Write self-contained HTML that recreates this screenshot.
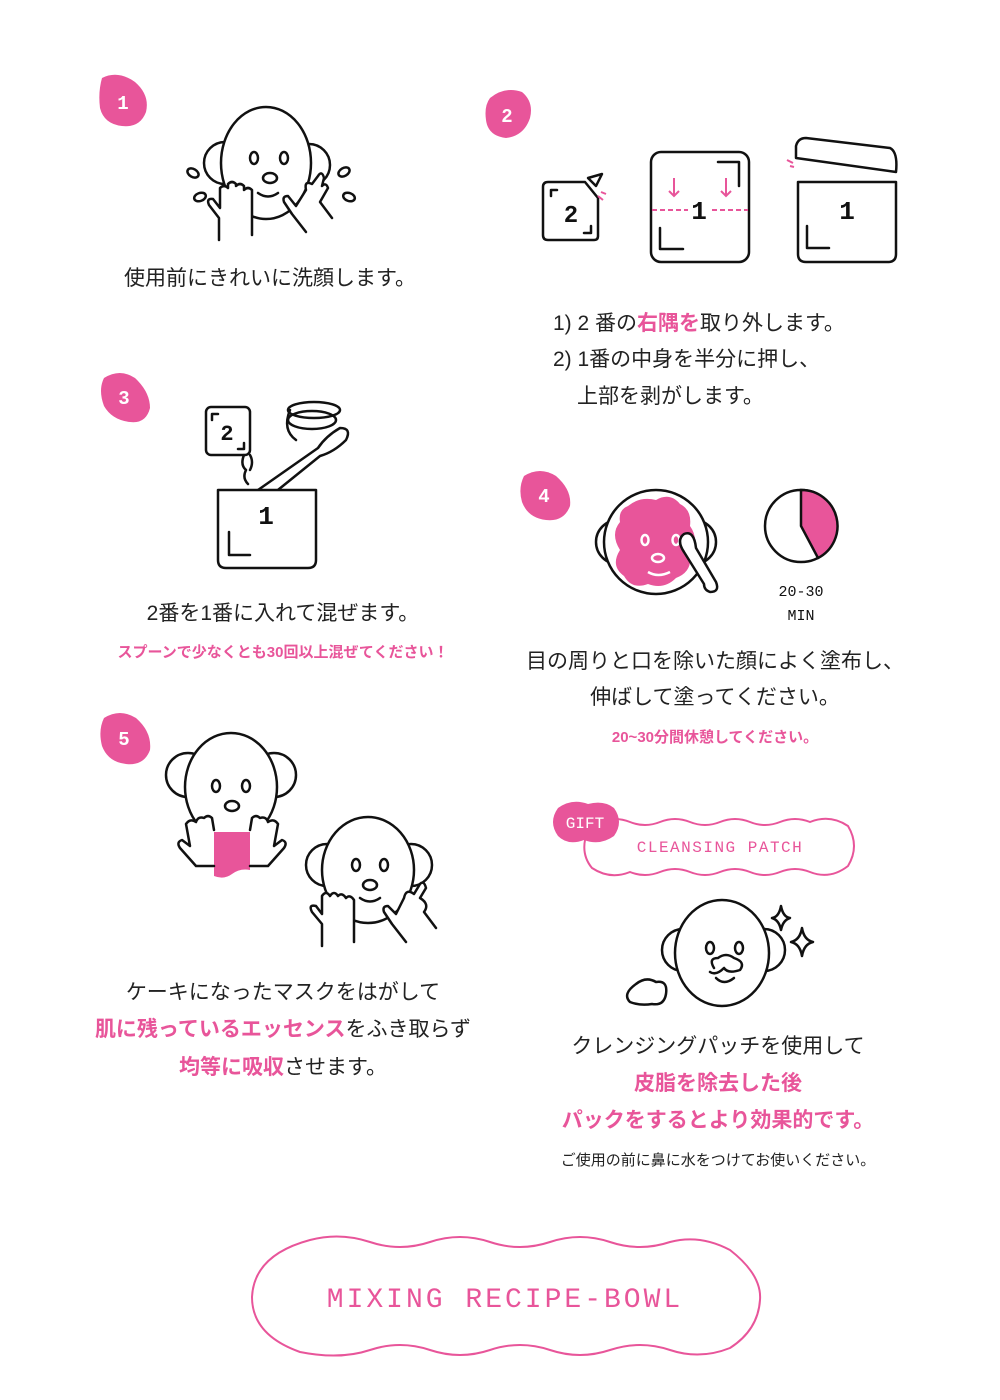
<!DOCTYPE html>
<html><head><meta charset="utf-8"><style>
html,body{margin:0;padding:0;background:#fff;}
svg{display:block}
.t{font-family:"Liberation Sans","Noto Sans CJK JP",sans-serif;font-size:21px;fill:#222}
.p{fill:#e8559a;font-weight:bold}
.m{font-family:"Liberation Mono","DejaVu Sans Mono",monospace;fill:#e8559a}
.b{fill:#e8559a}
.l{fill:none;stroke:#111;stroke-width:2.5;stroke-linecap:round;stroke-linejoin:round}
.lw{fill:#fff;stroke:#111;stroke-width:2.5;stroke-linecap:round;stroke-linejoin:round}
.pl{fill:none;stroke:#e8559a;stroke-width:2}
.n{font-family:"Liberation Mono",monospace;font-weight:bold;fill:#111}
</style></head><body>
<svg width="1000" height="1400" viewBox="0 0 1000 1400" xmlns="http://www.w3.org/2000/svg">
<g>
<path class="b" d="M102 78 Q118 70 135 82 Q150 95 146 112 Q140 128 122 126 Q104 124 100 108 Q98 92 102 78Z"/>
<text x="123" y="109" class="m" font-size="19" font-weight="bold" style="fill:#fff" text-anchor="middle">1</text>
<path class="b" d="M490 98 Q505 86 522 92 Q534 102 530 118 Q524 136 506 138 Q488 136 486 120 Q484 106 490 98Z"/>
<text x="507" y="122" class="m" font-size="19" font-weight="bold" style="fill:#fff" text-anchor="middle">2</text>
<path class="b" d="M104 378 Q120 368 135 378 Q150 392 150 408 Q146 424 130 422 Q112 420 104 406 Q98 390 104 378Z"/>
<text x="124" y="404" class="m" font-size="19" font-weight="bold" style="fill:#fff" text-anchor="middle">3</text>
<path class="b" d="M524 476 Q540 466 556 476 Q572 490 570 506 Q564 522 546 520 Q528 518 522 502 Q518 488 524 476Z"/>
<text x="544" y="502" class="m" font-size="19" font-weight="bold" style="fill:#fff" text-anchor="middle">4</text>
<path class="b" d="M104 718 Q120 708 136 718 Q152 732 150 750 Q144 766 126 764 Q108 762 102 746 Q98 730 104 718Z"/>
<text x="124" y="745" class="m" font-size="19" font-weight="bold" style="fill:#fff" text-anchor="middle">5</text>
</g>

<!-- Step 1 -->
<g>
<circle class="lw" cx="225" cy="163" r="21"/>
<circle class="lw" cx="309" cy="165" r="21"/>
<ellipse class="lw" cx="266" cy="163" rx="45" ry="56"/>
<ellipse class="l" cx="254" cy="158" rx="4" ry="6"/>
<ellipse class="l" cx="284" cy="158" rx="4" ry="6"/>
<ellipse class="l" cx="270" cy="178" rx="7" ry="5"/>
<path class="l" d="M258 193 Q268 200 278 193"/>
<path class="lw" d="M219 240 L219 218 L209 205 Q206 198 213 199 L220 208 L220 188 Q224 184 228 188 L228 184 Q232 180 236 184 L236 186 Q240 182 244 186 L244 190 Q248 186 252 190 L252 235"/>
<path class="lw" d="M306 232 L292 214 L284 202 Q282 196 288 196 L296 206 L306 190 Q304 180 312 184 L318 176 Q322 170 324 178 L322 186 Q326 182 328 188 L320 202 L332 218"/>
<ellipse class="l" cx="193" cy="173" rx="6" ry="4" transform="rotate(30 193 173)"/>
<ellipse class="l" cx="200" cy="197" rx="6" ry="4" transform="rotate(-20 200 197)"/>
<ellipse class="l" cx="344" cy="172" rx="6" ry="4" transform="rotate(-30 344 172)"/>
<ellipse class="l" cx="349" cy="197" rx="6" ry="4" transform="rotate(20 349 197)"/>
</g>
<text x="270" y="285" class="t" text-anchor="middle">使用前にきれいに洗顔します。</text>

<!-- Step 2 -->
<g>
<path class="lw" d="M548 182 L585 182 L598 198 L598 236 Q598 240 594 240 L548 240 Q543 240 543 235 L543 187 Q543 182 548 182Z"/>
<path class="l" d="M551 196 L551 190 L557 190 M591 226 L591 233 L584 233"/>
<text x="571" y="222" class="n" font-size="24" text-anchor="middle">2</text>
<path class="l" d="M588 178 L602 174 L596 186Z" stroke-width="2"/>
<path class="pl" d="M601 192 L606 194 M598 196 L603 200" />
<rect class="lw" x="651" y="152" width="98" height="110" rx="10"/>
<path class="l" d="M718 162 L739 162 L739 186 M660 228 L660 249 L683 249"/>
<path class="pl" stroke-dasharray="5 3" d="M652 210 L688 210 M712 210 L748 210"/>
<path class="pl" d="M674 178 L674 196 M669 191 L674 196 L679 191 M726 178 L726 196 M721 191 L726 196 L731 191"/>
<text x="699" y="219" class="n" font-size="26" text-anchor="middle">1</text>
<path class="lw" d="M798 182 L896 182 L896 254 Q896 262 888 262 L806 262 Q798 262 798 254Z"/>
<path class="l" d="M807 226 L807 248 L829 248"/>
<text x="847" y="219" class="n" font-size="26" text-anchor="middle">1</text>
<path class="lw" d="M806 138 L890 148 Q898 152 896 172 L796 158 L796 146 Q798 138 806 138Z"/>
<path class="pl" d="M787 160 L793 163 M790 166 L794 167"/>
</g>
<text x="553" y="330" class="t">1) 2 番の<tspan class="p">右隅を</tspan>取り外します。</text>
<text x="553" y="366" class="t">2) 1番の中身を半分に押し、</text>
<text x="577" y="403" class="t">上部を剥がします。</text>

<!-- Step 3 -->
<g>
<rect class="lw" x="206" y="407" width="44" height="48" rx="5"/>
<text x="227" y="440" class="n" font-size="22" text-anchor="middle">2</text>
<path class="l" d="M212 420 L212 414 L218 414 M244 443 L244 449 L238 449"/>
<path class="lw" d="M244 455 Q240 465 246 470 Q242 478 248 484 M250 455 Q254 462 250 470"/>
<ellipse class="l" cx="314" cy="410" rx="26" ry="8"/>
<ellipse class="l" cx="312" cy="420" rx="24" ry="9"/>
<path class="l" d="M290 410 Q282 430 296 440"/>
<path class="lw" d="M258 490 L318 448 Q326 436 340 428 Q352 428 346 440 Q334 452 320 456 L268 498"/>
<path class="lw" d="M218 490 L316 490 L316 560 Q316 568 308 568 L226 568 Q218 568 218 560Z"/>
<path class="l" d="M229 532 L229 555 L250 555"/>
<text x="266" y="524" class="n" font-size="26" text-anchor="middle">1</text>
</g>
<text x="283" y="620" class="t" text-anchor="middle">2番を1番に入れて混ぜます。</text>
<text x="283" y="657" class="t p" text-anchor="middle" style="font-size:15px">スプーンで少なくとも30回以上混ぜてください！</text>

<!-- Step 4 -->
<g>
<circle class="lw" cx="618" cy="542" r="22"/>
<circle class="lw" cx="694" cy="542" r="22"/>
<circle class="lw" cx="656" cy="542" r="52"/>
<path class="b" d="M628 506 Q640 496 656 500 Q670 492 680 504 Q692 510 690 526 Q700 540 690 556 Q692 572 676 578 Q664 590 648 584 Q632 590 624 576 Q610 566 620 550 Q610 534 620 522 Q618 510 628 506Z"/>
<ellipse fill="none" stroke="#fff" stroke-width="2.5" cx="645" cy="540" rx="3.5" ry="5"/>
<ellipse fill="none" stroke="#fff" stroke-width="2.5" cx="676" cy="540" rx="3.5" ry="5"/>
<ellipse fill="none" stroke="#fff" stroke-width="2.5" cx="658" cy="558" rx="6" ry="4"/>
<path fill="none" stroke="#fff" stroke-width="2.5" d="M648 572 Q658 578 670 572"/>
<path class="lw" d="M684 552 Q676 540 684 534 Q694 530 696 548 L716 582 Q720 592 710 592 Q704 590 704 584Z"/>
<circle class="lw" cx="801" cy="526" r="36"/>
<path class="b" stroke="#111" stroke-width="2.5" d="M801 490 A36 36 0 0 1 818 558 L801 526 Z" />
<text x="801" y="596" class="n" font-size="15" text-anchor="middle" style="font-weight:normal">20-30</text>
<text x="801" y="620" class="n" font-size="15" text-anchor="middle" style="font-weight:normal">MIN</text>
</g>
<text x="715" y="668" class="t" text-anchor="middle">目の周りと口を除いた顔によく塗布し、</text>
<text x="715" y="704" class="t" text-anchor="middle">伸ばして塗ってください。</text>
<text x="715" y="742" class="t p" text-anchor="middle" style="font-size:15px">20~30分間休憩してください。</text>

<!-- Step 5 -->
<g>
<circle class="lw" cx="188" cy="775" r="22"/>
<circle class="lw" cx="274" cy="775" r="22"/>
<ellipse class="lw" cx="231" cy="787" rx="46" ry="54"/>
<ellipse class="l" cx="216" cy="786" rx="4" ry="6"/>
<ellipse class="l" cx="246" cy="786" rx="4" ry="6"/>
<ellipse class="l" cx="232" cy="806" rx="7" ry="5"/>
<path class="b" d="M214 832 L250 832 L250 870 Q240 868 232 874 Q224 880 214 876Z"/>
<path class="lw" d="M214 866 L196 866 L180 848 Q176 842 182 840 L190 846 L186 824 Q190 818 196 822 Q198 816 204 818 Q208 814 212 818 L214 830"/>
<path class="lw" d="M250 866 L268 866 L284 848 Q288 842 282 840 L274 846 L278 824 Q274 818 268 822 Q266 816 260 818 Q256 814 252 818 L250 830"/>
<circle class="lw" cx="327" cy="865" r="21"/>
<circle class="lw" cx="411" cy="865" r="21"/>
<ellipse class="lw" cx="368" cy="870" rx="46" ry="53"/>
<ellipse class="l" cx="356" cy="865" rx="4" ry="6"/>
<ellipse class="l" cx="384" cy="865" rx="4" ry="6"/>
<ellipse class="l" cx="370" cy="885" rx="7" ry="5"/>
<path class="l" d="M360 898 Q370 905 380 898"/>
<path class="lw" d="M322 946 L322 924 L312 912 Q308 904 316 906 L322 914 L322 896 Q326 890 330 896 Q334 890 338 896 Q342 892 346 898 Q350 894 354 900 L354 942"/>
<path class="lw" d="M406 942 L392 924 L384 912 Q382 906 388 906 L396 914 L404 898 Q406 888 414 894 L420 884 Q424 880 426 888 L420 898 Q430 904 424 912 L436 928"/>
</g>
<text x="283" y="999" class="t" text-anchor="middle">ケーキになったマスクをはがして</text>
<text x="283" y="1036" class="t" text-anchor="middle"><tspan class="p">肌に残っているエッセンス</tspan>をふき取らず</text>
<text x="283" y="1074" class="t" text-anchor="middle"><tspan class="p">均等に吸収</tspan>させます。</text>

<!-- Gift -->
<path class="pl" d="M600 822 Q615 816 630 822 Q645 828 660 822 Q675 816 690 822 Q705 828 720 822 Q735 816 750 822 Q765 828 780 822 Q795 816 810 822 Q830 814 848 826 Q860 846 848 866 Q830 880 810 872 Q795 866 780 872 Q765 878 750 872 Q735 866 720 872 Q705 878 690 872 Q675 866 660 872 Q645 878 630 872 Q610 880 592 868 Q582 856 585 840"/>
<path class="b" d="M558 808 Q572 798 588 804 Q604 800 614 808 Q624 822 614 836 Q600 846 584 840 Q568 846 558 836 Q548 822 558 808Z"/>
<text x="585" y="828" class="m" font-size="16" style="fill:#fff" text-anchor="middle">GIFT</text>
<text x="720" y="852" class="m" font-size="16" text-anchor="middle" letter-spacing="1.5">CLEANSING PATCH</text>
<g>
<circle class="lw" cx="683" cy="950" r="21"/>
<circle class="lw" cx="764" cy="950" r="21"/>
<ellipse class="lw" cx="722" cy="953" rx="47" ry="53"/>
<ellipse class="l" cx="710" cy="948" rx="4" ry="6"/>
<ellipse class="l" cx="739" cy="948" rx="4" ry="6"/>
<path class="l" d="M714 968 Q708 958 718 958 Q726 952 734 958 Q746 962 740 970 Q728 974 724 968 Q716 976 710 972"/>
<path class="l" d="M716 978 Q724 986 734 978"/>
<path class="l" d="M636 984 Q646 976 656 982 Q668 980 666 994 Q664 1006 652 1004 Q640 1006 630 1002 Q622 994 636 984Z"/>
<path class="l" d="M781 906 Q783 917 790 918 Q783 920 781 930 Q779 920 772 918 Q779 917 781 906Z"/>
<path class="l" d="M802 928 Q804 940 813 942 Q804 944 802 956 Q800 944 791 942 Q800 940 802 928Z"/>
</g>
<text x="718" y="1053" class="t" text-anchor="middle">クレンジングパッチを使用して</text>
<text x="718" y="1090" class="t p" text-anchor="middle">皮脂を除去した後</text>
<text x="718" y="1127" class="t p" text-anchor="middle">パックをするとより効果的です。</text>
<text x="718" y="1165" class="t" text-anchor="middle" style="font-size:15px">ご使用の前に鼻に水をつけてお使いください。</text>

<!-- bottom pill -->
<path class="pl" d="M310 1240 Q340 1232 370 1242 Q400 1252 430 1242 Q460 1232 490 1242 Q520 1252 550 1242 Q580 1232 610 1242 Q640 1252 670 1242 Q700 1234 730 1250 Q762 1275 760 1300 Q758 1330 730 1348 Q700 1360 670 1350 Q640 1340 610 1350 Q580 1360 550 1350 Q520 1340 490 1350 Q460 1360 430 1350 Q400 1340 370 1350 Q340 1360 300 1352 Q252 1335 252 1297 Q254 1255 310 1240Z"/>
<text x="505" y="1307" class="m" font-size="28" text-anchor="middle" letter-spacing="3">MIXING RECIPE-BOWL</text>
</svg>
</body></html>
